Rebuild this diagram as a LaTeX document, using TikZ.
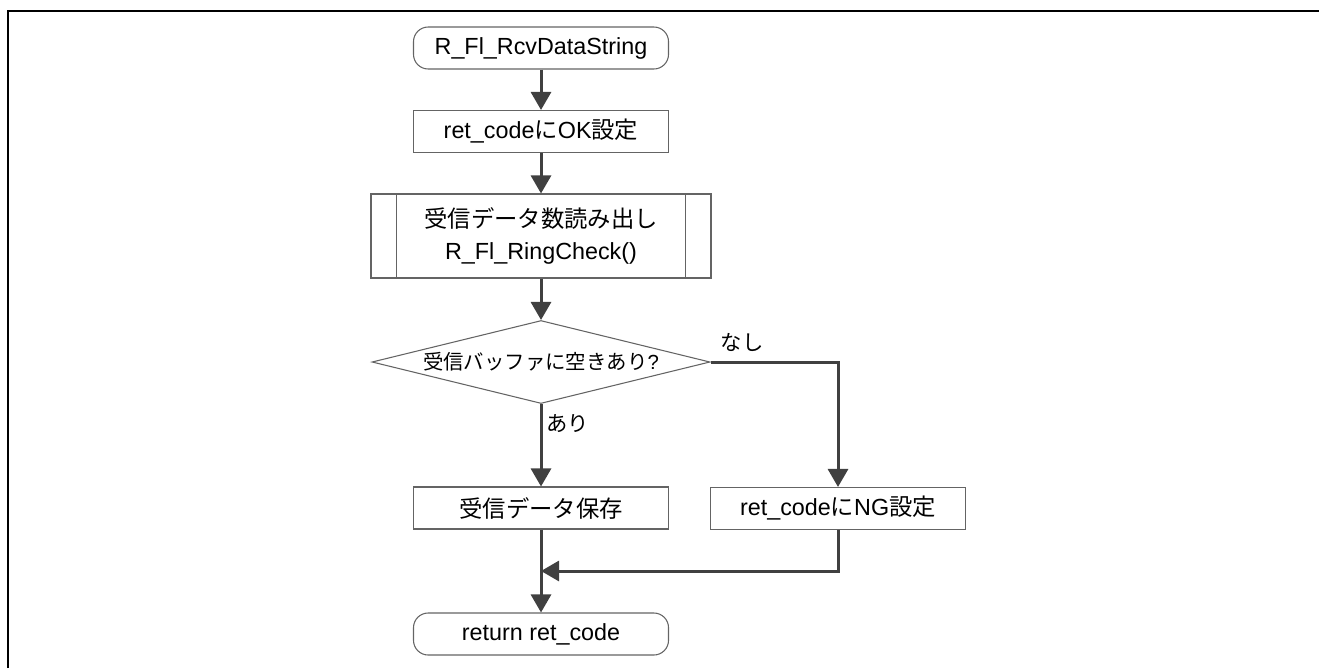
\documentclass[tikz,border=0pt]{standalone}
\usepackage{fontspec}
\setmainfont{Liberation Sans}
\newfontfamily\jp{Noto Sans CJK JP}
\usetikzlibrary{shapes.geometric,arrows.meta}

\newcommand\flowfont{\fontsize{17.5}{24}\selectfont}
\newcommand\chkfont{\fontsize{15.3}{18}\selectfont}
\newcommand\lblfont{\fontsize{16}{19}\selectfont}

\tikzset{
  flowline/.style={color={rgb, 255:red, 64; green, 64; blue, 64}, line width=2.25pt},
  flowarrow/.style={flowline, -{Triangle[length=13.5pt,width=15pt]}},
  boxline/.style={draw={rgb, 255:red, 100; green, 100; blue, 100}, line width=0.8pt},
  procbox/.style={boxline, rectangle, inner sep=0pt, minimum width=191.25pt, minimum height=31.5pt, font=\flowfont, align=center},
  termbox/.style={procbox, rounded corners=11pt},
  subbox/.style={procbox, minimum width=255pt, minimum height=63pt},
  chkbox/.style={boxline, diamond, aspect=4.07, inner sep=0pt, minimum width=253.5pt, minimum height=62.25pt, font=\chkfont},
  lbl/.style={inner sep=0pt, font=\lblfont}
}

\begin{document}
\begin{tikzpicture}[x=0.75pt,y=0.75pt,yscale=-1,xscale=1]
\useasboundingbox (0,0) rectangle (1319,668);

%Frame
\draw [line width=1.5pt]  (8,668) -- (8,11) -- (1319,11) ;

%Shapes
\node [termbox] (start) at (541,48) {R\_Fl\_RcvDataString};
\node [procbox] (ok) at (541,131.5) {ret\_code{\jp に}OK{\jp 設定}};
\node [subbox] (rcv) at (541,236) {{\jp 受信データ数読み出し}\\R\_Fl\_RingCheck()};
\draw [boxline]  ([xshift=19.5pt]rcv.north west) -- ([xshift=19.5pt]rcv.south west) ;
\draw [boxline]  ([xshift=-19.5pt]rcv.north east) -- ([xshift=-19.5pt]rcv.south east) ;
\node [chkbox] (chk) at (541,362) {\jp 受信バッファに空きあり\textrm{?}};
\node [procbox] (save) at (541,508) {\jp 受信データ保存};
\node [procbox] (ng) at (838,508.5) {ret\_code{\jp に}NG{\jp 設定}};
\node [termbox] (stop) at (541,634) {return ret\_code};
\coordinate (mrg) at (541,571);

%Connectors
\draw [flowarrow]  (start) -- (ok) ;
\draw [flowarrow]  (ok) -- (rcv) ;
\draw [flowarrow]  (rcv) -- (chk) ;
\draw [flowarrow]  (chk) -- (save) ;
\draw [flowarrow]  (chk.east) -| (ng.north) ;
\draw [flowarrow]  (save) -- (stop) ;
\draw [flowarrow]  (ng.south) |- (mrg) ;

% Text Node
\node [lbl, anchor=west] (yes) at ([xshift=4pt,yshift=15pt]chk.south) {\jp あり};
% Text Node
\node [lbl, anchor=west] (no) at ([xshift=7.5pt,yshift=-15pt]chk.east) {\jp なし};

\end{tikzpicture}
\end{document}
